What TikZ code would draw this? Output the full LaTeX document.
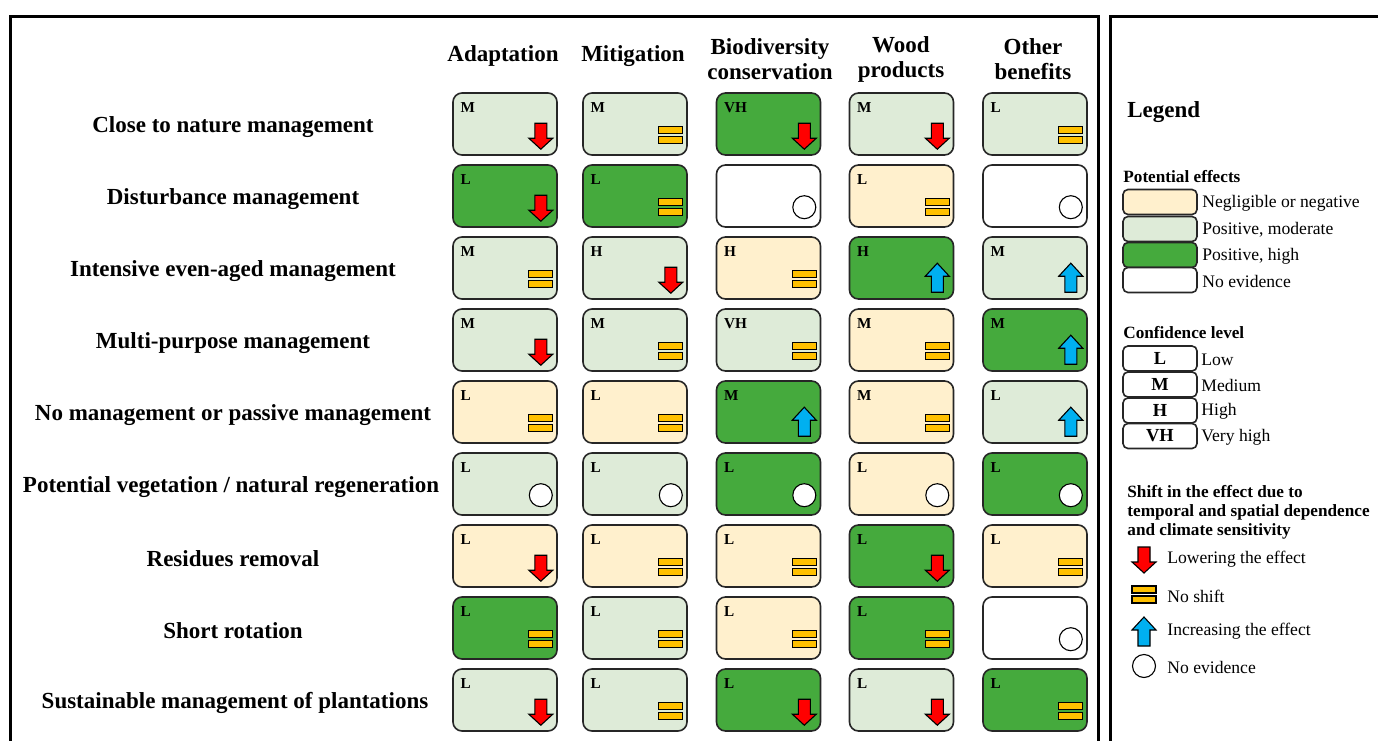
\documentclass[tikz,border=0pt]{standalone}
\usepackage{fontspec}
\setmainfont{Liberation Serif}
\usetikzlibrary{calc}
\definecolor{lg}{HTML}{DEEBD8}
\definecolor{dg}{HTML}{45AA3D}
\definecolor{bg}{HTML}{FFF0CD}
\definecolor{eqc}{HTML}{FFC000}
\definecolor{upc}{HTML}{00B0F0}
\definecolor{dnc}{HTML}{FF0000}
\definecolor{edgec}{HTML}{262626}
\tikzset{
  cellbox/.style={draw=edgec,line width=0.8pt,rounded corners=4.5pt,minimum width=52pt,minimum height=31pt,inner sep=0pt},
  conf/.style={anchor=west,inner sep=0pt,font=\fontsize{7.6}{8}\selectfont\bfseries},
  rowlab/.style={font=\fontsize{11.5}{13.5}\selectfont\bfseries,inner sep=0pt},
  colhead/.style={font=\fontsize{11.5}{12.5}\selectfont\bfseries,align=center,inner sep=0pt},
  leghead/.style={anchor=west,inner sep=0pt,font=\fontsize{8.6}{9.5}\selectfont\bfseries,align=left},
  legtext/.style={anchor=west,inner sep=0pt,font=\fontsize{8.8}{10}\selectfont},
  legbox/.style={draw=edgec,line width=0.8pt,rounded corners=2.5pt,minimum width=37pt,minimum height=12.5pt,inner sep=0pt},
  symline/.style={draw=black,line width=0.55pt,line join=miter},
  frame/.style={draw=black,line width=1.5pt}
}
\newcommand\symdn{\filldraw[symline,fill=dnc] (-23,31) -- (-11,31) -- (-11,46) -- (-5,46) -- (-17,57) -- (-29,46) -- (-23,46) -- cycle;}
\newcommand\symup{\filldraw[symline,fill=upc] (-17,27) -- (-5,40) -- (-11,40) -- (-11,56) -- (-23,56) -- (-23,40) -- (-29,40) -- cycle;}
\newcommand\symeq{\filldraw[symline,fill=eqc] (-29,34) rectangle (-5,41); \filldraw[symline,fill=eqc] (-29,44) rectangle (-5,51);}
\newcommand\symno{\filldraw[symline,fill=white] (-17,43) circle[radius=11.5];}
\newcommand\mycell[5]{%
  \pgfmathsetmacro\cx{{505,635,768.5,901.5,1035}[#2-1]}%
  \pgfmathsetmacro\cy{124+72*(#1-1)}%
  \node[cellbox,fill=#3] (c#1#2) at (\cx,\cy) {};
  \node[conf] (t#1#2) at ($(c#1#2.north west)+(8,15)$) {#4};
  \begin{scope}[shift={(c#1#2.north east)}]#5\end{scope}
}
\begin{document}
\begin{tikzpicture}[x=0.5pt,y=-0.5pt]
\useasboundingbox (0,0) rectangle (1378,740);
\fill[white] (0,0) rectangle (1378,740);
% frames
\draw[frame] (10,780) -- (10,16) -- (1098,16) -- (1098,780);
\draw[frame] (1110,780) -- (1110,16) -- (1420,16);
% column headers
\node[colhead] (h1) at (503,56) {Adaptation};
\node[colhead] (h2) at (633,56) {Mitigation};
\node[colhead] (h3) at (770,59) {Biodiversity\\conservation};
\node[colhead] (h4) at (901,59) {Wood\\products};
\node[colhead] (h5) at (1033,59) {Other\\benefits};
% row labels
\node[rowlab] (r1) at (233,127) {Close to nature management};
\node[rowlab] (r2) at (233,199) {Disturbance management};
\node[rowlab] (r3) at (233,271) {Intensive even-aged management};
\node[rowlab] (r4) at (233,343) {Multi-purpose management};
\node[rowlab] (r5) at (233,415) {No management or passive management};
\node[rowlab] (r6) at (231,487) {Potential vegetation / natural regeneration};
\node[rowlab] (r7) at (233,559) {Residues removal};
\node[rowlab] (r8) at (233,631) {Short rotation};
\node[rowlab] (r9) at (235,703) {Sustainable management of plantations};
% cells
\mycell{1}{1}{lg}{M}{\symdn}
\mycell{1}{2}{lg}{M}{\symeq}
\mycell{1}{3}{dg}{VH}{\symdn}
\mycell{1}{4}{lg}{M}{\symdn}
\mycell{1}{5}{lg}{L}{\symeq}
\mycell{2}{1}{dg}{L}{\symdn}
\mycell{2}{2}{dg}{L}{\symeq}
\mycell{2}{3}{white}{}{\symno}
\mycell{2}{4}{bg}{L}{\symeq}
\mycell{2}{5}{white}{}{\symno}
\mycell{3}{1}{lg}{M}{\symeq}
\mycell{3}{2}{lg}{H}{\symdn}
\mycell{3}{3}{bg}{H}{\symeq}
\mycell{3}{4}{dg}{H}{\symup}
\mycell{3}{5}{lg}{M}{\symup}
\mycell{4}{1}{lg}{M}{\symdn}
\mycell{4}{2}{lg}{M}{\symeq}
\mycell{4}{3}{lg}{VH}{\symeq}
\mycell{4}{4}{bg}{M}{\symeq}
\mycell{4}{5}{dg}{M}{\symup}
\mycell{5}{1}{bg}{L}{\symeq}
\mycell{5}{2}{bg}{L}{\symeq}
\mycell{5}{3}{dg}{M}{\symup}
\mycell{5}{4}{bg}{M}{\symeq}
\mycell{5}{5}{lg}{L}{\symup}
\mycell{6}{1}{lg}{L}{\symno}
\mycell{6}{2}{lg}{L}{\symno}
\mycell{6}{3}{dg}{L}{\symno}
\mycell{6}{4}{bg}{L}{\symno}
\mycell{6}{5}{dg}{L}{\symno}
\mycell{7}{1}{bg}{L}{\symdn}
\mycell{7}{2}{bg}{L}{\symeq}
\mycell{7}{3}{bg}{L}{\symeq}
\mycell{7}{4}{dg}{L}{\symdn}
\mycell{7}{5}{bg}{L}{\symeq}
\mycell{8}{1}{dg}{L}{\symeq}
\mycell{8}{2}{lg}{L}{\symeq}
\mycell{8}{3}{bg}{L}{\symeq}
\mycell{8}{4}{dg}{L}{\symeq}
\mycell{8}{5}{white}{}{\symno}
\mycell{9}{1}{lg}{L}{\symdn}
\mycell{9}{2}{lg}{L}{\symeq}
\mycell{9}{3}{dg}{L}{\symdn}
\mycell{9}{4}{lg}{L}{\symdn}
\mycell{9}{5}{dg}{L}{\symeq}
% legend
\node[anchor=west,inner sep=0pt,font=\fontsize{11.5}{12.5}\selectfont\bfseries] (lg) at (1127,112) {Legend};
\node[leghead] (pe) at (1123,177) {Potential effects};
\node[legbox,fill=bg] (s1) at (1160,202) {};
\node[legbox,fill=lg] (s2) at (1160,229) {};
\node[legbox,fill=dg] (s3) at (1160,255) {};
\node[legbox,fill=white] (s4) at (1160,280) {};
\node[legtext] (s1t) at (1202,203) {Negligible or negative};
\node[legtext] (s2t) at (1202,230) {Positive, moderate};
\node[legtext] (s3t) at (1202,256) {Positive, high};
\node[legtext] (s4t) at (1202,281) {No evidence};
\node[leghead] (cl) at (1123,333) {Confidence level};
\node[legbox,fill=white,font=\fontsize{9.2}{10}\selectfont\bfseries] (k1) at (1160,358.5) {L};
\node[legbox,fill=white,font=\fontsize{9.2}{10}\selectfont\bfseries] (k2) at (1160,384.5) {M};
\node[legbox,fill=white,font=\fontsize{9.2}{10}\selectfont\bfseries] (k3) at (1160,410.5) {H};
\node[legbox,fill=white,font=\fontsize{9.2}{10}\selectfont\bfseries] (k4) at (1160,436) {VH};
\node[legtext] (k1t) at (1201,359.5) {Low};
\node[legtext] (k2t) at (1201,385.5) {Medium};
\node[legtext] (k3t) at (1201,411.5) {High};
\node[legtext] (k4t) at (1201,437) {Very high};
\node[leghead] (sh) at (1127,512) {Shift in the effect due to\\temporal and spatial dependence\\and climate sensitivity};
\begin{scope}[shift={(1161,516)}]\symdn\end{scope}
\begin{scope}[shift={(1161,552)}]\symeq\end{scope}
\begin{scope}[shift={(1161,590)}]\symup\end{scope}
\begin{scope}[shift={(1161,623)}]\symno\end{scope}
\node[legtext] (e1) at (1167,559) {Lowering the effect};
\node[legtext] (e2) at (1167,596) {No shift};
\node[legtext] (e3) at (1167,631) {Increasing the effect};
\node[legtext] (e4) at (1167,667) {No evidence};
\end{tikzpicture}
\end{document}
